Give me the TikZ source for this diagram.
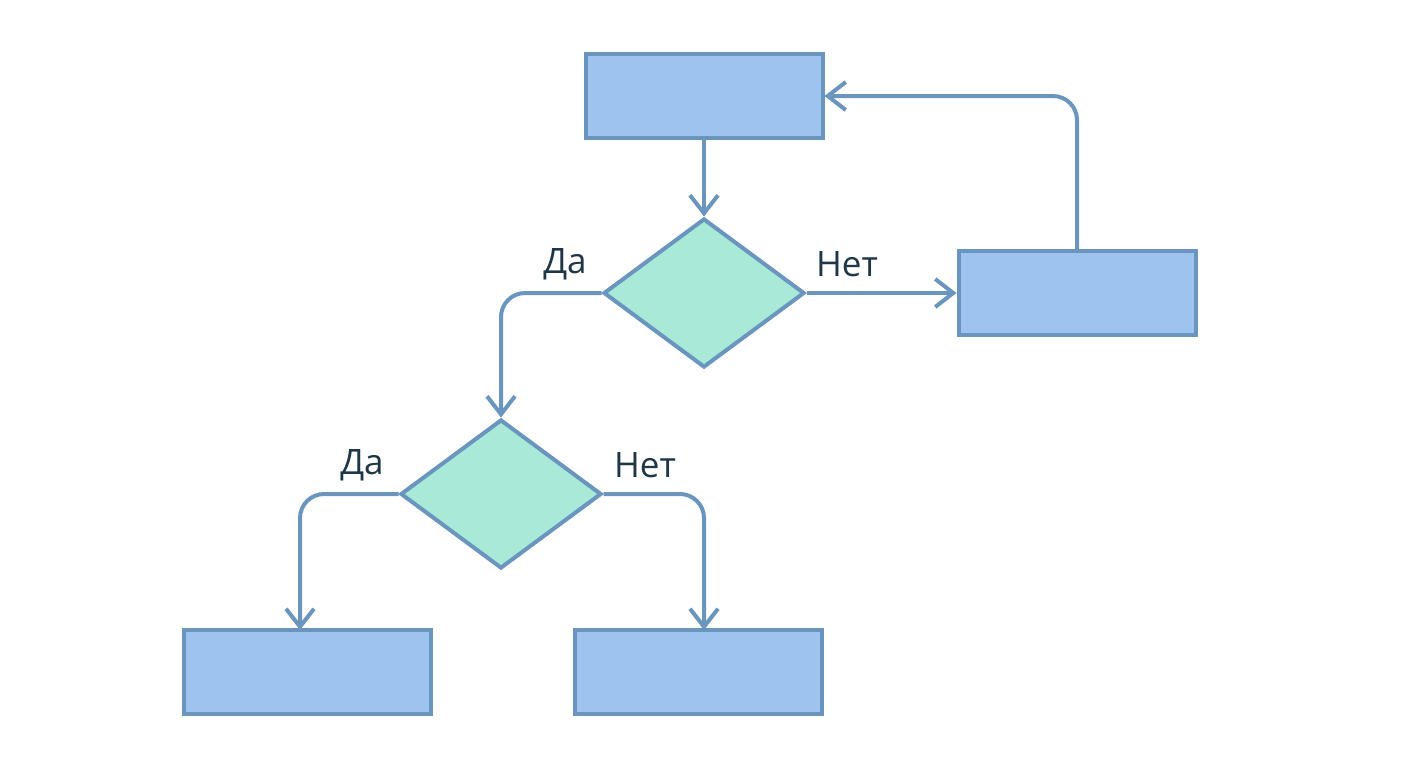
\documentclass[tikz,border=0pt]{standalone}
\usepackage{fontspec}
\setmainfont{Open Sans}
\usetikzlibrary{shapes.geometric, arrows.meta, positioning}
\definecolor{boxfill}{HTML}{9EC3EE}
\definecolor{diafill}{HTML}{A9E9D8}
\definecolor{edgeblue}{HTML}{6A95BE}
\definecolor{labeltext}{HTML}{1F3646}

\begin{document}
\begin{tikzpicture}[x=0.5pt, y=-0.5pt,
        block/.style={rectangle, draw=edgeblue, fill=boxfill, line width=2pt,
            minimum width=118.5pt, minimum height=42pt, inner sep=0pt},
        wideblock/.style={block, minimum width=123.5pt},
        decision/.style={diamond, draw=edgeblue, fill=diafill, line width=2pt,
            minimum width=100.5pt, minimum height=74.5pt, inner sep=0pt},
        flow/.style={draw=edgeblue, line width=2pt, rounded corners=12pt,
            -{Straight Barb[length=9pt, width=14pt, line width=2pt]}},
        answer/.style={text=labeltext, font=\fontsize{17.5}{20}\selectfont}]
    \useasboundingbox (0,0) rectangle (1408,768);

    \node[block] (start) at (704,96) {};
    \node[decision] (d1) at (704,293) {};
    \node[block] (retry) at (1077,293) {};
    \node[decision] (d2) at (501,494) {};
    \node[wideblock] (yes) at (307.5,672) {};
    \node[wideblock] (no) at (698.5,672) {};

    \coordinate (yesin) at (300,630);
    \coordinate (noin) at (704,630);

    \draw[flow] (start) -- (d1);
    \draw[flow] (d1.west) -| (d2.north);
    \draw[flow] (d1.east) -- (retry.west);
    \draw[flow] (retry.north) |- (start.east);
    \draw[flow] (d2.west) -| (yesin);
    \draw[flow] (d2.east) -| (noin);

    \node[answer] (l1) at (565,264) {Да};
    \node[answer] (l2) at (847,264) {Нет};
    \node[answer] (l3) at (362,465) {Да};
    \node[answer] (l4) at (645,465) {Нет};
\end{tikzpicture}
\end{document}
